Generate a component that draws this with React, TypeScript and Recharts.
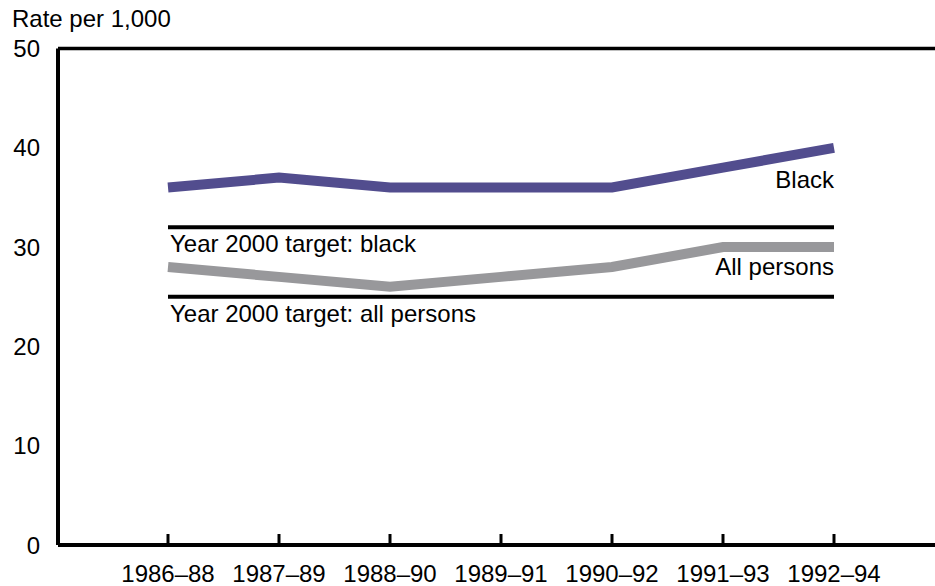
import { LineChart, Line, XAxis, YAxis, ReferenceLine } from 'recharts';

const periods = ['1986–88', '1987–89', '1988–90', '1989–91', '1990–92', '1991–93', '1992–94'];
const black = [36, 37, 36, 36, 36, 38, 40];
const allPersons = [28, 27, 26, 27, 28, 30, 30];
const yTicks = [0, 10, 20, 30, 40, 50];
const targetBlack = 32;
const targetAll = 25;

const data = periods.map((period, i) => ({ period, black: black[i], all: allPersons[i] }));

const FONT = '"Liberation Sans", Arial, Helvetica, sans-serif';
const FS = 24;
const last = periods.length - 1;

// series name drawn under the last point, right-aligned
const endLabel = (text: string, dy: number) => (props: any) => {
  if (props.index !== last) return <g />;
  return (
    <text x={props.x} y={props.y + dy} textAnchor="end" fontSize={FS} fontFamily={FONT} fill="#000">
      {text}
    </text>
  );
};

// target line caption, left-aligned under the line
const targetLabel = (text: string) => (props: any) => {
  const vb = props.viewBox;
  return (
    <text x={vb.x + 2} y={vb.y + 25} textAnchor="start" fontSize={FS} fontFamily={FONT} fill="#000">
      {text}
    </text>
  );
};

export default function App() {
  return (
    <div style={{ position: 'absolute', left: 0, top: 0, width: 935, height: 586, background: '#fff' }}>
      <div
        style={{
          position: 'absolute',
          left: 12,
          top: 7,
          fontFamily: FONT,
          fontSize: FS,
          color: '#000',
          lineHeight: '24px',
        }}
      >
        Rate per 1,000
      </div>
      <LineChart width={935} height={586} data={data} margin={{ top: 48.5, right: 0, left: 0, bottom: 0 }}>
        <XAxis
          dataKey="period"
          padding={{ left: 110, right: 101 }}
          axisLine={{ stroke: '#000', strokeWidth: 4 }}
          tickLine={{ stroke: '#000', strokeWidth: 3 }}
          tickSize={-11}
          tickMargin={31}
          height={41}
          tick={{ fill: '#000', fontSize: FS, fontFamily: FONT }}
          interval={0}
        />
        <YAxis
          domain={[0, 50]}
          ticks={yTicks}
          width={58}
          axisLine={{ stroke: '#000', strokeWidth: 4 }}
          tickLine={false}
          tickSize={0}
          tickMargin={18}
          tick={{ fill: '#000', fontSize: FS, fontFamily: FONT }}
        />
        <ReferenceLine y={50} stroke="#000" strokeWidth={3.5} />
        <ReferenceLine
          segment={[{ x: periods[0], y: targetBlack }, { x: periods[last], y: targetBlack }]}
          stroke="#000"
          strokeWidth={4}
          label={targetLabel('Year 2000 target: black')}
        />
        <ReferenceLine
          segment={[{ x: periods[0], y: targetAll }, { x: periods[last], y: targetAll }]}
          stroke="#000"
          strokeWidth={4}
          label={targetLabel('Year 2000 target: all persons')}
        />
        <Line
          dataKey="all"
          stroke="#98989b"
          strokeWidth={10}
          dot={false}
          type="linear"
          isAnimationActive={false}
          label={endLabel('All persons', 28)}
        />
        <Line
          dataKey="black"
          stroke="#524d8e"
          strokeWidth={10}
          dot={false}
          type="linear"
          isAnimationActive={false}
          label={endLabel('Black', 40)}
        />
      </LineChart>
    </div>
  );
}
